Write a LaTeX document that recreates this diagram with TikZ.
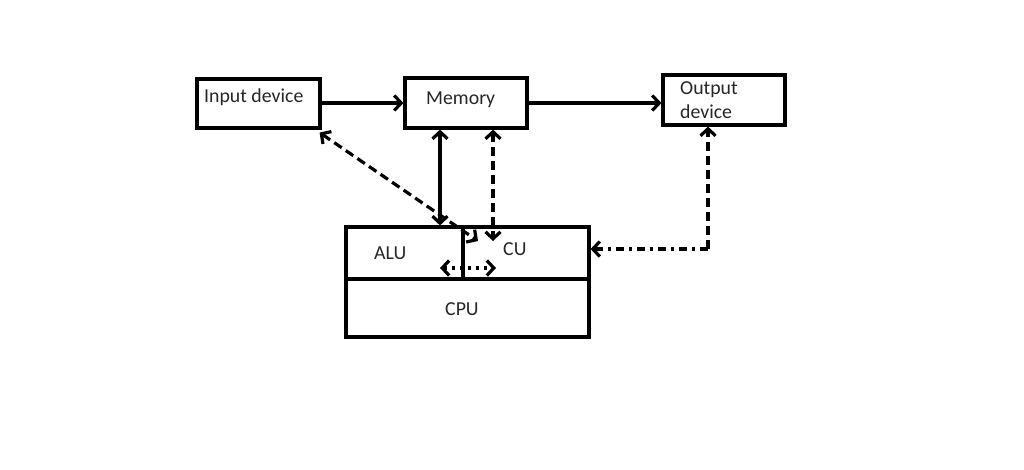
\documentclass[tikz,border=0pt]{standalone}
\usepackage{fontspec}
\setmainfont{Carlito}
\usetikzlibrary{arrows.meta}

\tikzset{
  box/.style={draw, line width=3.2pt, inner sep=0pt},
  txt/.style={inner sep=0pt, anchor=base west, align=left,
    font=\fontsize{19.8}{24}\selectfont, text=black!85},
  link/.style={line width=3.2pt, {Straight Barb[length=7pt,width=15pt]}-{Straight Barb[length=7pt,width=15pt]}},
  oneway/.style={line width=3.2pt, -{Straight Barb[length=7pt,width=15pt]}},
  dashlink/.style={dash pattern=on 9pt off 5pt},
  dotlink/.style={dash pattern=on 3pt off 5pt},
  dashdotlink/.style={dash pattern=on 8pt off 5pt on 3pt off 5pt}
}

\begin{document}
\begin{tikzpicture}[x=1pt, y=-1pt]
\useasboundingbox (0,0) rectangle (1024,469);

% boxes
\node (inp) [box, minimum width=123pt, minimum height=49pt] at (258.5,103.5) {};
\node (mem) [box, minimum width=122pt, minimum height=50pt] at (466,103) {};
\node (out) [box, minimum width=122pt, minimum height=50pt] at (724,100) {};
\node (alu) [box, minimum width=117pt, minimum height=52pt] at (404.5,253) {};
\node (cu)  [box, minimum width=126pt, minimum height=52pt] at (526,253) {};
\node (cpu) [box, minimum width=243pt, minimum height=58pt] at (467.5,308) {};

% labels
\node (inptxt) [txt] at (204,102) {Input device};
\node (memtxt) [txt] at (426,104) {Memory};
\node (outtxt) [txt] at (680,118) {Output\\device};
\node (alutxt) [txt] at (374,259) {ALU};
\node (cutxt)  [txt] at (503,255) {CU};
\node (cputxt) [txt] at (445,315) {CPU};

% free ends
\coordinate (cuin) at (493,241);
\coordinate (cutip) at (478,241);
\coordinate (corner) at (708,249);
\coordinate (aluend) at (440,268);
\coordinate (cuend) at (496,268);

% data flow
\draw[oneway] (inp.east |- mem.west) -- (mem.west);
\draw[oneway] (mem.east) -- (out.west |- mem.east);
\draw[link] ([xshift=-26pt]mem.south) -- ([xshift=-26pt]mem.south |- alu.north);

% control flow
\draw[link, dashlink] (mem.south -| cuin) -- (cuin);
\draw[link, dashlink] ([shift={(-2pt,-3pt)}]inp.south east) -- (cutip);
\draw[oneway, dashlink] (corner) -- (out.south -| corner);
\draw[oneway, dashdotlink] (corner) -- (cu.east |- corner);
\draw[link, dotlink] (aluend) -- (cuend);
\end{tikzpicture}
\end{document}
